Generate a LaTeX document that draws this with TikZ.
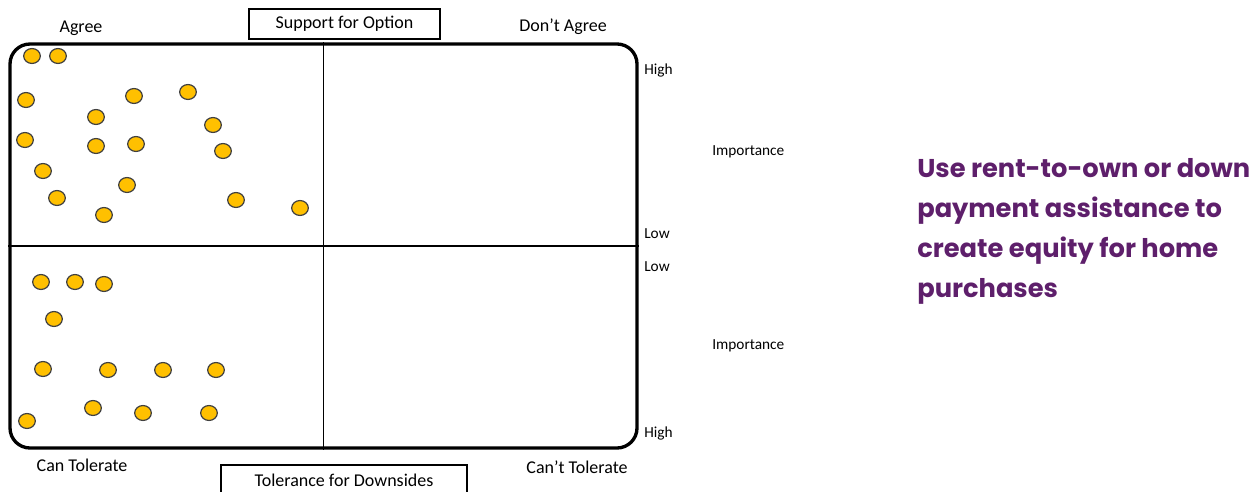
\documentclass[tikz,border=0pt]{standalone}
\usepackage{fontspec}
\setmainfont{Carlito}
\newfontfamily\titlefont{Poppins}
\usetikzlibrary{shapes.geometric}
\definecolor{dotfill}{HTML}{FFC000}
\definecolor{dotline}{HTML}{404040}
\definecolor{titlepurple}{HTML}{5E1F6B}
\tikzset{
  dot/.style={ellipse, draw=dotline, line width=0.9pt, fill=dotfill, minimum width=12.5pt, minimum height=11.2pt, inner sep=0pt},
  lbl/.style={font=\fontsize{13.5}{16}\selectfont, inner sep=0pt},
  sidelbl/.style={font=\fontsize{11.5}{14}\selectfont, inner sep=0pt, anchor=west},
  boxlbl/.style={draw, line width=1.2pt, font=\fontsize{13.5}{16}\selectfont, inner sep=0pt},
  titleline/.style={font=\titlefont\bfseries\fontsize{19.3}{30}\selectfont, text=titlepurple, anchor=base west, inner sep=0pt},
}
\begin{document}
\begin{tikzpicture}[x=0.75pt,y=-0.75pt]
\useasboundingbox[fill=white] (0,0) rectangle (1256,492);
% frame
\node[draw, line width=2.5pt, rounded corners=15pt, minimum width=470.25pt, minimum height=303pt, inner sep=0pt] (frame) at (323.5,246) {};
\draw[line width=1.4pt] (frame.north) -- (frame.south);
\draw[line width=1.4pt] (frame.west) -- (frame.east);
% header boxes
\node[boxlbl, minimum width=143pt, minimum height=22.5pt] (support) at (344.5,24) {Support for Option};
\node[boxlbl, minimum width=184.5pt, minimum height=24pt, anchor=north] (tolerance) at (344,464) {Tolerance for Downsides};
% corner labels
\node[lbl] (agree) at (81,28) {Agree};
\node[lbl] (dontagree) at (563,27) {Don’t Agree};
\node[lbl] (cantol) at (82,465) {Can Tolerate};
\node[lbl] (canttol) at (577,467) {Can’t Tolerate};
% side labels
\node[sidelbl] (high1) at (644,70) {High};
\node[sidelbl] (imp1) at (712,152) {Importance};
\node[sidelbl] (low1) at (644,234) {Low};
\node[sidelbl] (low2) at (644,267) {Low};
\node[sidelbl] (imp2) at (712,346) {Importance};
\node[sidelbl] (high2) at (644,433) {High};
% title
\node[titleline] (t1) at (917,177) {Use rent-to-own or down};
\node[titleline] (t2) at (917,217) {payment assistance to};
\node[titleline] (t3) at (917,257) {create equity for home};
\node[titleline] (t4) at (917,297) {purchases};
% dots top-left
\foreach \x/\y [count=\i] in {32/56, 58/56, 26/100, 134/96, 188/92, 96/117, 213/125, 25/140, 96/146, 136/144, 223/151, 43/171, 127/185, 57/198, 104/215, 236/200, 300/208}
  \node[dot] (a\i) at (\x,\y) {};
% dots bottom-left
\foreach \x/\y [count=\i] in {41/282, 75/282, 104/284, 54/319, 43/369, 108/370, 163/370, 216/370, 93/408, 143/413, 209/413, 27/421}
  \node[dot] (b\i) at (\x,\y) {};
\end{tikzpicture}
\end{document}
